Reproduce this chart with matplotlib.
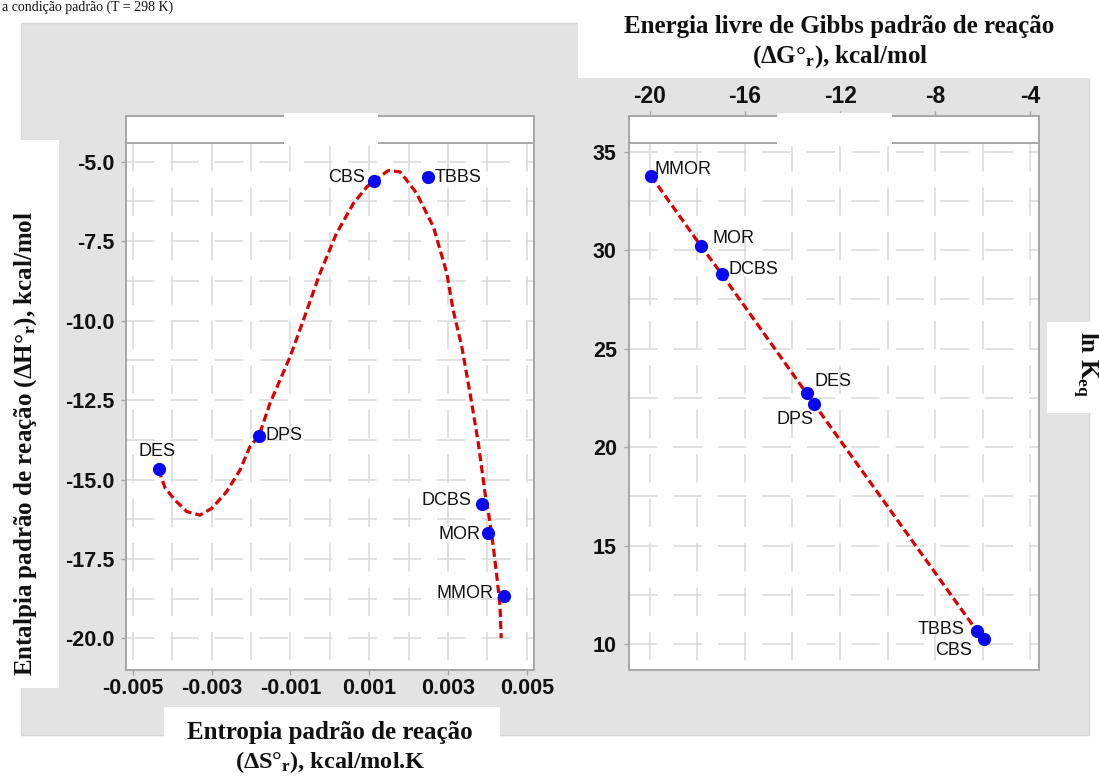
import matplotlib
matplotlib.use("Agg")
import matplotlib.pyplot as plt
from matplotlib.patches import Rectangle

# ---------------- data ----------------
left_names = ["DES", "DPS", "CBS", "TBBS", "DCBS", "MOR", "MMOR"]
left_dS = [-0.00434, -0.00180, 0.00112, 0.00250, 0.00386, 0.00402, 0.00441]
left_dH = [-14.67, -13.63, -5.61, -5.49, -15.77, -16.67, -18.65]

# trend curve
curve_dS = [-0.00435, -0.00418, -0.00393, -0.00363, -0.00330, -0.00300, -0.00262,
            -0.00228, -0.00203, -0.00180, -0.00152, -0.00101, -0.00067, -0.00025,
            0.00017, 0.00060, 0.00094, 0.00112, 0.00148, 0.00178, 0.00195, 0.00220,
            0.00263, 0.00297, 0.00313, 0.00335, 0.00356, 0.00377, 0.00394, 0.00403,
            0.00415, 0.00426, 0.00432, 0.00435]
curve_dH = [-14.69, -15.27, -15.65, -16.01, -16.12, -15.91, -15.38,
            -14.70, -13.97, -13.63, -12.60, -11.14, -9.98, -8.51,
            -7.25, -6.31, -5.79, -5.61, -5.28, -5.32, -5.58, -5.99,
            -7.05, -8.51, -9.67, -10.82, -12.29, -13.86, -15.43, -16.06,
            -17.11, -18.27, -19.00, -19.99]

right_names = ["MMOR", "MOR", "DCBS", "DES", "DPS", "TBBS", "CBS"]
right_dG = [-19.95, -17.85, -16.98, -13.41, -13.08, -6.25, -5.93]
right_lnK = [33.77, 30.21, 28.79, 22.73, 22.17, 10.66, 10.24]
right_line_names = ["MMOR", "MOR", "DCBS", "DES", "DPS", "TBBS"]

left_xticks = [-0.005, -0.003, -0.001, 0.001, 0.003, 0.005]
left_xticklabels = ["-0.005", "-0.003", "-0.001", "0.001", "0.003", "0.005"]
left_yticks = [-5.0, -7.5, -10.0, -12.5, -15.0, -17.5, -20.0]
left_yticklabels = ["-5.0", "-7.5", "-10.0", "-12.5", "-15.0", "-17.5", "-20.0"]
left_xgrid = [-0.005, -0.004, -0.003, -0.002, -0.001, 0.0, 0.001, 0.002, 0.003, 0.004, 0.005]
left_ygrid = [-5.0, -6.25, -7.5, -8.75, -10.0, -11.25, -12.5, -13.75, -15.0, -16.25,
              -17.5, -18.75, -20.0]

right_xticks = [-20, -16, -12, -8, -4]
right_xticklabels = ["-20", "-16", "-12", "-8", "-4"]
right_yticks = [10, 15, 20, 25, 30, 35]
right_yticklabels = ["10", "15", "20", "25", "30", "35"]
right_xgrid = [-20, -18, -16, -14, -12, -10, -8, -6, -4]
right_ygrid = [10, 12.5, 15, 17.5, 20, 22.5, 25, 27.5, 30, 32.5, 35]

# ---------------- style ----------------
plt.rcParams["lines.scale_dashes"] = False
plt.rcParams["mathtext.fontset"] = "custom"
plt.rcParams["mathtext.rm"] = "Liberation Serif:bold"
plt.rcParams["mathtext.bf"] = "Liberation Serif:bold"
plt.rcParams["mathtext.it"] = "Liberation Serif:bold"

SANS = "Liberation Sans"
SERIF = "Liberation Serif"
FRAME = "#a6a6a6"
GRID = "#d9d9d9"
GRAYBG = "#e3e3e3"
BLUE = "#0808f0"
RED = "#d80000"
TXT = "#111111"

W, H = 1099, 778
fig = plt.figure(figsize=(W / 100, H / 100), dpi=100)
fig.patch.set_facecolor("white")


def fx(x):
    return x / W


def fy(y):
    return 1 - y / H


def rect(x0, y0, x1, y1, color, z, ec="none"):
    fig.add_artist(Rectangle((fx(x0), fy(y1)), (x1 - x0) / W, (y1 - y0) / H,
                             transform=fig.transFigure, facecolor=color,
                             edgecolor=ec, lw=1, zorder=z))


# background panels
rect(21, 23, 1089, 735, GRAYBG, -3, ec="#d6d6d6")
rect(0, 140, 59, 688, "white", -2)
rect(164, 707, 500, 778, "white", -2)
rect(578, 0, 1099, 78, "white", -2)
rect(1047, 322, 1099, 413, "white", -2)


def setup_axes(ax, xlim, ylim, inner, xgrid, ygrid):
    ax.set_facecolor("white")
    ax.set_xlim(*xlim)
    ax.set_ylim(*ylim)
    for sp in ax.spines.values():
        sp.set_color(FRAME)
        sp.set_linewidth(1.4)
    ax.axhline(inner, color=FRAME, lw=1.4, zorder=3)
    for xv in xgrid:
        ax.plot([xv, xv], [inner, ylim[0]], color=GRID, lw=1.1,
                ls=(0, (20.5, 11.5)), zorder=0.5)
    for yv in ygrid:
        ax.plot([xlim[0], xlim[1]], [yv, yv], color=GRID, lw=1.1,
                ls=(0, (20.5, 11.5)), zorder=0.5)


# ---------------- left chart ----------------
ax1 = fig.add_axes([fx(125.7), fy(670), (534 - 125.7) / W, (670 - 116) / H])
setup_axes(ax1, (-0.005183, 0.005183), (-20.994, -3.562), -4.412, left_xgrid, left_ygrid)
ax1.set_xticks(left_xticks, left_xticklabels)
ax1.set_yticks(left_yticks, left_yticklabels)
ax1.tick_params(axis="both", direction="out", length=3.6, width=1, color=FRAME,
                labelsize=15.5, labelcolor=TXT)
ax1.tick_params(axis="y", pad=4.5)
ax1.tick_params(axis="x", pad=2.5)
for lab in ax1.get_xticklabels() + ax1.get_yticklabels():
    lab.set_fontfamily(SANS)
    lab.set_fontweight("bold")

ax1.plot(curve_dS, curve_dH, color=RED, lw=2.3, ls=(0, (5.8, 2.9)), zorder=4)
ax1.plot(left_dS, left_dH, "o", color=BLUE, ms=8.5, mec=BLUE, zorder=5)

left_offsets = {"DES": (-2, 17.6, "center"), "DPS": (7, 0, "left"),
                "CBS": (-9.4, 4, "right"), "TBBS": (6.4, 0, "left"),
                "DCBS": (-10.6, 3, "right"), "MOR": (-7.8, -2, "right"),
                "MMOR": (-9.7, 2, "right")}
for n, xv, yv in zip(left_names, left_dS, left_dH):
    dx, dy, ha = left_offsets[n]
    ax1.annotate(n, (xv, yv), xytext=(dx * 0.72, dy * 0.72), textcoords="offset points",
                 ha=ha, va="center", fontsize=13, family=SANS, color=TXT, zorder=6)

# ---------------- right chart ----------------
ax2 = fig.add_axes([fx(628.8), fy(670), (1038.5 - 628.8) / W, (670 - 116) / H])
setup_axes(ax2, (-20.88, -3.66), (8.68, 36.81), 35.44, right_xgrid, right_ygrid)
ax2.xaxis.tick_top()
ax2.set_xticks(right_xticks, right_xticklabels)
ax2.set_yticks(right_yticks, right_yticklabels)
ax2.tick_params(axis="both", direction="out", length=3.6, width=1, color=FRAME,
                labelcolor=TXT)
ax2.tick_params(axis="y", pad=5, labelsize=15.5)
ax2.tick_params(axis="x", pad=2, labelsize=16.5)
for lab in ax2.get_xticklabels() + ax2.get_yticklabels():
    lab.set_fontfamily(SANS)
    lab.set_fontweight("bold")

line_G = [g for n, g in zip(right_names, right_dG) if n in right_line_names]
line_L = [k for n, k in zip(right_names, right_lnK) if n in right_line_names]
ax2.plot(line_G, line_L, color=RED, lw=2.3, ls=(0, (5.8, 2.9)), zorder=4)
ax2.plot(right_dG, right_lnK, "o", color=BLUE, ms=8.5, mec=BLUE, zorder=5)

right_offsets = {"MMOR": (3.4, 6, "left"), "MOR": (12, 7, "left"),
                 "DCBS": (7, 4, "left"), "DES": (8, 12, "left"),
                 "DPS": (-0.7, -15, "right"), "TBBS": (-12, 2, "right"),
                 "CBS": (-12, -11, "right")}
for n, xv, yv in zip(right_names, right_dG, right_lnK):
    dx, dy, ha = right_offsets[n]
    ax2.annotate(n, (xv, yv), xytext=(dx * 0.72, dy * 0.72), textcoords="offset points",
                 ha=ha, va="center", fontsize=13, family=SANS, color=TXT, zorder=6)

# white gaps in the top frame
rect(284, 113, 377.5, 145.5, "white", 10)
rect(776.6, 113, 891.7, 145.5, "white", 10)

# ---------------- labels ----------------
lab_kw = dict(family=SERIF, weight="bold", fontsize=18, color="#111111")
fig.text(fx(330), fy(733), "Entropia padrão de reação", ha="center", va="center", **lab_kw)
fig.text(fx(330), fy(762), "(ΔS°$_\\mathregular{r}$), kcal/mol.K", ha="center", va="center",
         family=SERIF, weight="bold", fontsize=17.5, color="#111111")
fig.text(fx(26), fy(443), "Entalpia padrão de reação (ΔH°$_\\mathregular{r}$), kcal/mol",
         rotation=90, ha="center", va="center", **lab_kw)
fig.text(fx(839), fy(26), "Energia livre de Gibbs padrão de reação", ha="center", va="center", **lab_kw)
fig.text(fx(840), fy(57), "(ΔG°$_\\mathregular{r}$), kcal/mol", ha="center", va="center", **lab_kw)
fig.text(fx(1085), fy(364), "ln K$_\\mathregular{eq}$", rotation=270, ha="center", va="center", **lab_kw)
fig.text(fx(2), fy(1), "a condição padrão (T = 298 K)", ha="left", va="top",
         family=SERIF, fontsize=10, color="#111111")

fig.savefig("out.png", dpi=100)
